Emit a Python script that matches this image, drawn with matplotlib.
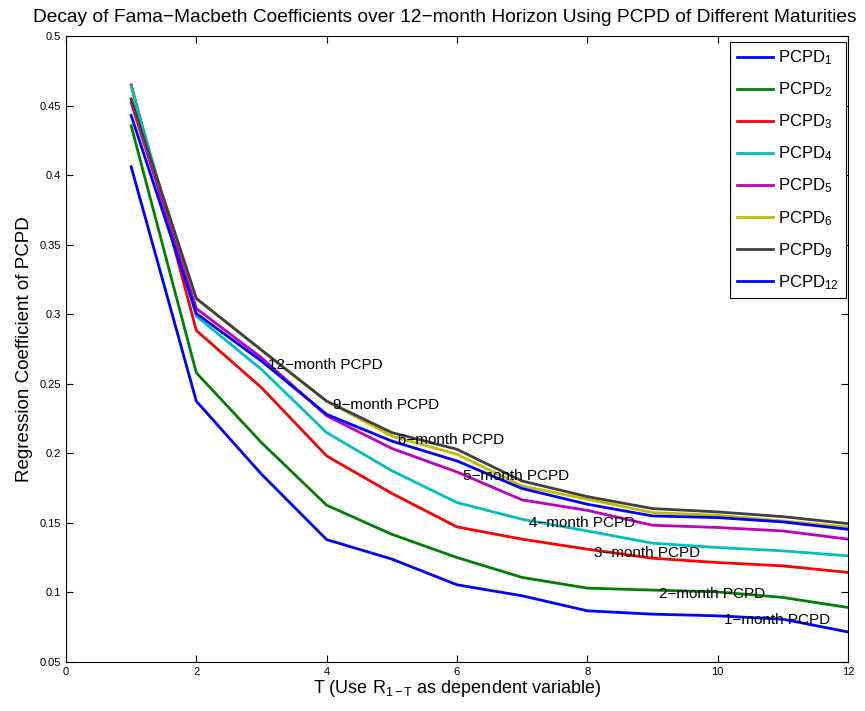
'''Decay of Fama-Macbeth coefficients.

Plot the regression coefficient of PCPD of different maturities over a
12-month horizon.
'''

# ----------------------------------------------------------------------------
# Modules
from matplotlib import pyplot as plt
from matplotlib import transforms
import numpy as np

# ----------------------------------------------------------------------------
# Data

horizon = np.arange(1, 13)

pcpd_1 = [0.406, 0.2375, 0.185, 0.138, 0.124, 0.1055, 0.0976, 0.0868,
          0.0844, 0.0832, 0.0808, 0.0716]
pcpd_2 = [0.4355, 0.2579, 0.2077, 0.1627, 0.1418, 0.1251, 0.1108, 0.1031,
          0.1017, 0.1004, 0.0964, 0.0892]
pcpd_3 = [0.4649, 0.2883, 0.2472, 0.1981, 0.1712, 0.1471, 0.1383, 0.1311,
          0.1246, 0.1215, 0.1191, 0.1144]
pcpd_4 = [0.464, 0.2986, 0.2603, 0.2149, 0.1875, 0.1646, 0.1526, 0.1442,
          0.1354, 0.1323, 0.1299, 0.1263]
pcpd_5 = [0.452, 0.3041, 0.2687, 0.227, 0.2035, 0.1866, 0.1665, 0.159,
          0.1483, 0.1467, 0.1442, 0.1383]
pcpd_6 = [0.4548, 0.3113, 0.2742, 0.2375, 0.2124, 0.1993, 0.1765, 0.167,
          0.1574, 0.1555, 0.1514, 0.147]
pcpd_9 = [0.4548, 0.3113, 0.2742, 0.2375, 0.2149, 0.2029, 0.1801, 0.1689,
          0.1603, 0.1579, 0.1545, 0.1495]
pcpd_12 = [0.4429, 0.3005, 0.2663, 0.228, 0.2088, 0.1945, 0.1747, 0.1634,
           0.155, 0.1538, 0.1507, 0.1454]

series = [pcpd_1, pcpd_2, pcpd_3, pcpd_4, pcpd_5, pcpd_6, pcpd_9, pcpd_12]
maturities = [1, 2, 3, 4, 5, 6, 9, 12]
colors = [(0, 0, 1), (0, 0.5, 0), (1, 0, 0), (0, 0.75, 0.75),
          (0.75, 0, 0.75), (0.75, 0.75, 0), (0.25, 0.25, 0.25), (0, 0, 1)]

# where each "x-month PCPD" annotation sits (horizon of the point)
label_at = {1: 10, 2: 9, 3: 8, 4: 7, 5: 6, 6: 5, 9: 4, 12: 3}

# ----------------------------------------------------------------------------


def main():
    """Plots the decay of the coefficients and saves it to out.png."""

    plt.rcParams['font.family'] = ['Liberation Sans', 'DejaVu Sans']
    plt.rcParams['mathtext.fontset'] = 'custom'
    plt.rcParams['mathtext.rm'] = 'Liberation Sans'
    plt.rcParams['mathtext.it'] = 'Liberation Sans'

    figure = plt.figure(figsize=(8.65, 7.11), dpi=100)
    ax = figure.add_axes([0.0763, 0.0689, 0.9040, 0.8805])

    for mat, vals, col in zip(maturities, series, colors):
        ax.plot(horizon, vals, color=col, linewidth=2,
                label=f'PCPD$_{{{mat}}}$')

    # labels sit a bit below the point, like matlab's 'middle' alignment
    shifted = transforms.offset_copy(ax.transData, fig=figure, x=0, y=-4,
                                     units='dots')
    for mat, vals in zip(maturities, series):
        t = label_at[mat]
        ax.text(t + 0.1, vals[t - 1], f'{mat}\u2212month PCPD',
                fontsize=11, va='center', ha='left', transform=shifted)

    ax.set_xlim(0, 12)
    ax.set_ylim(0.05, 0.5)
    ax.set_xticks(np.arange(0, 13, 2))
    ax.set_yticks(np.arange(0.05, 0.501, 0.05))
    ax.set_yticklabels(['0.05', '0.1', '0.15', '0.2', '0.25', '0.3', '0.35',
                        '0.4', '0.45', '0.5'])
    ax.tick_params(direction='in', top=True, right=True, labelsize=8,
                   length=5)
    ax.set_xlabel(r'T (Use R$_{1-T}$ as dependent variable)',
                  fontsize=13, labelpad=1)
    ax.set_ylabel('Regression Coefficient of PCPD', fontsize=13.5,
                  labelpad=5)
    figure.text(0.514, 0.976, 'Decay of Fama\u2212Macbeth Coefficients over '
                '12\u2212month Horizon Using PCPD of Different Maturities',
                fontsize=13.8, ha='center', va='center')

    leg = ax.legend(loc='upper right', bbox_to_anchor=(0.9974, 0.9904),
                    borderaxespad=0, fontsize=12, fancybox=False,
                    edgecolor='black', framealpha=1, handlelength=2.2,
                    labelspacing=0.8, handletextpad=0.3, borderpad=0.4)
    leg.get_frame().set_linewidth(0.8)

    plt.savefig('out.png', dpi=100)

    return None

# ----------------------------------------------------------------------------


if __name__ == '__main__':
    main()
